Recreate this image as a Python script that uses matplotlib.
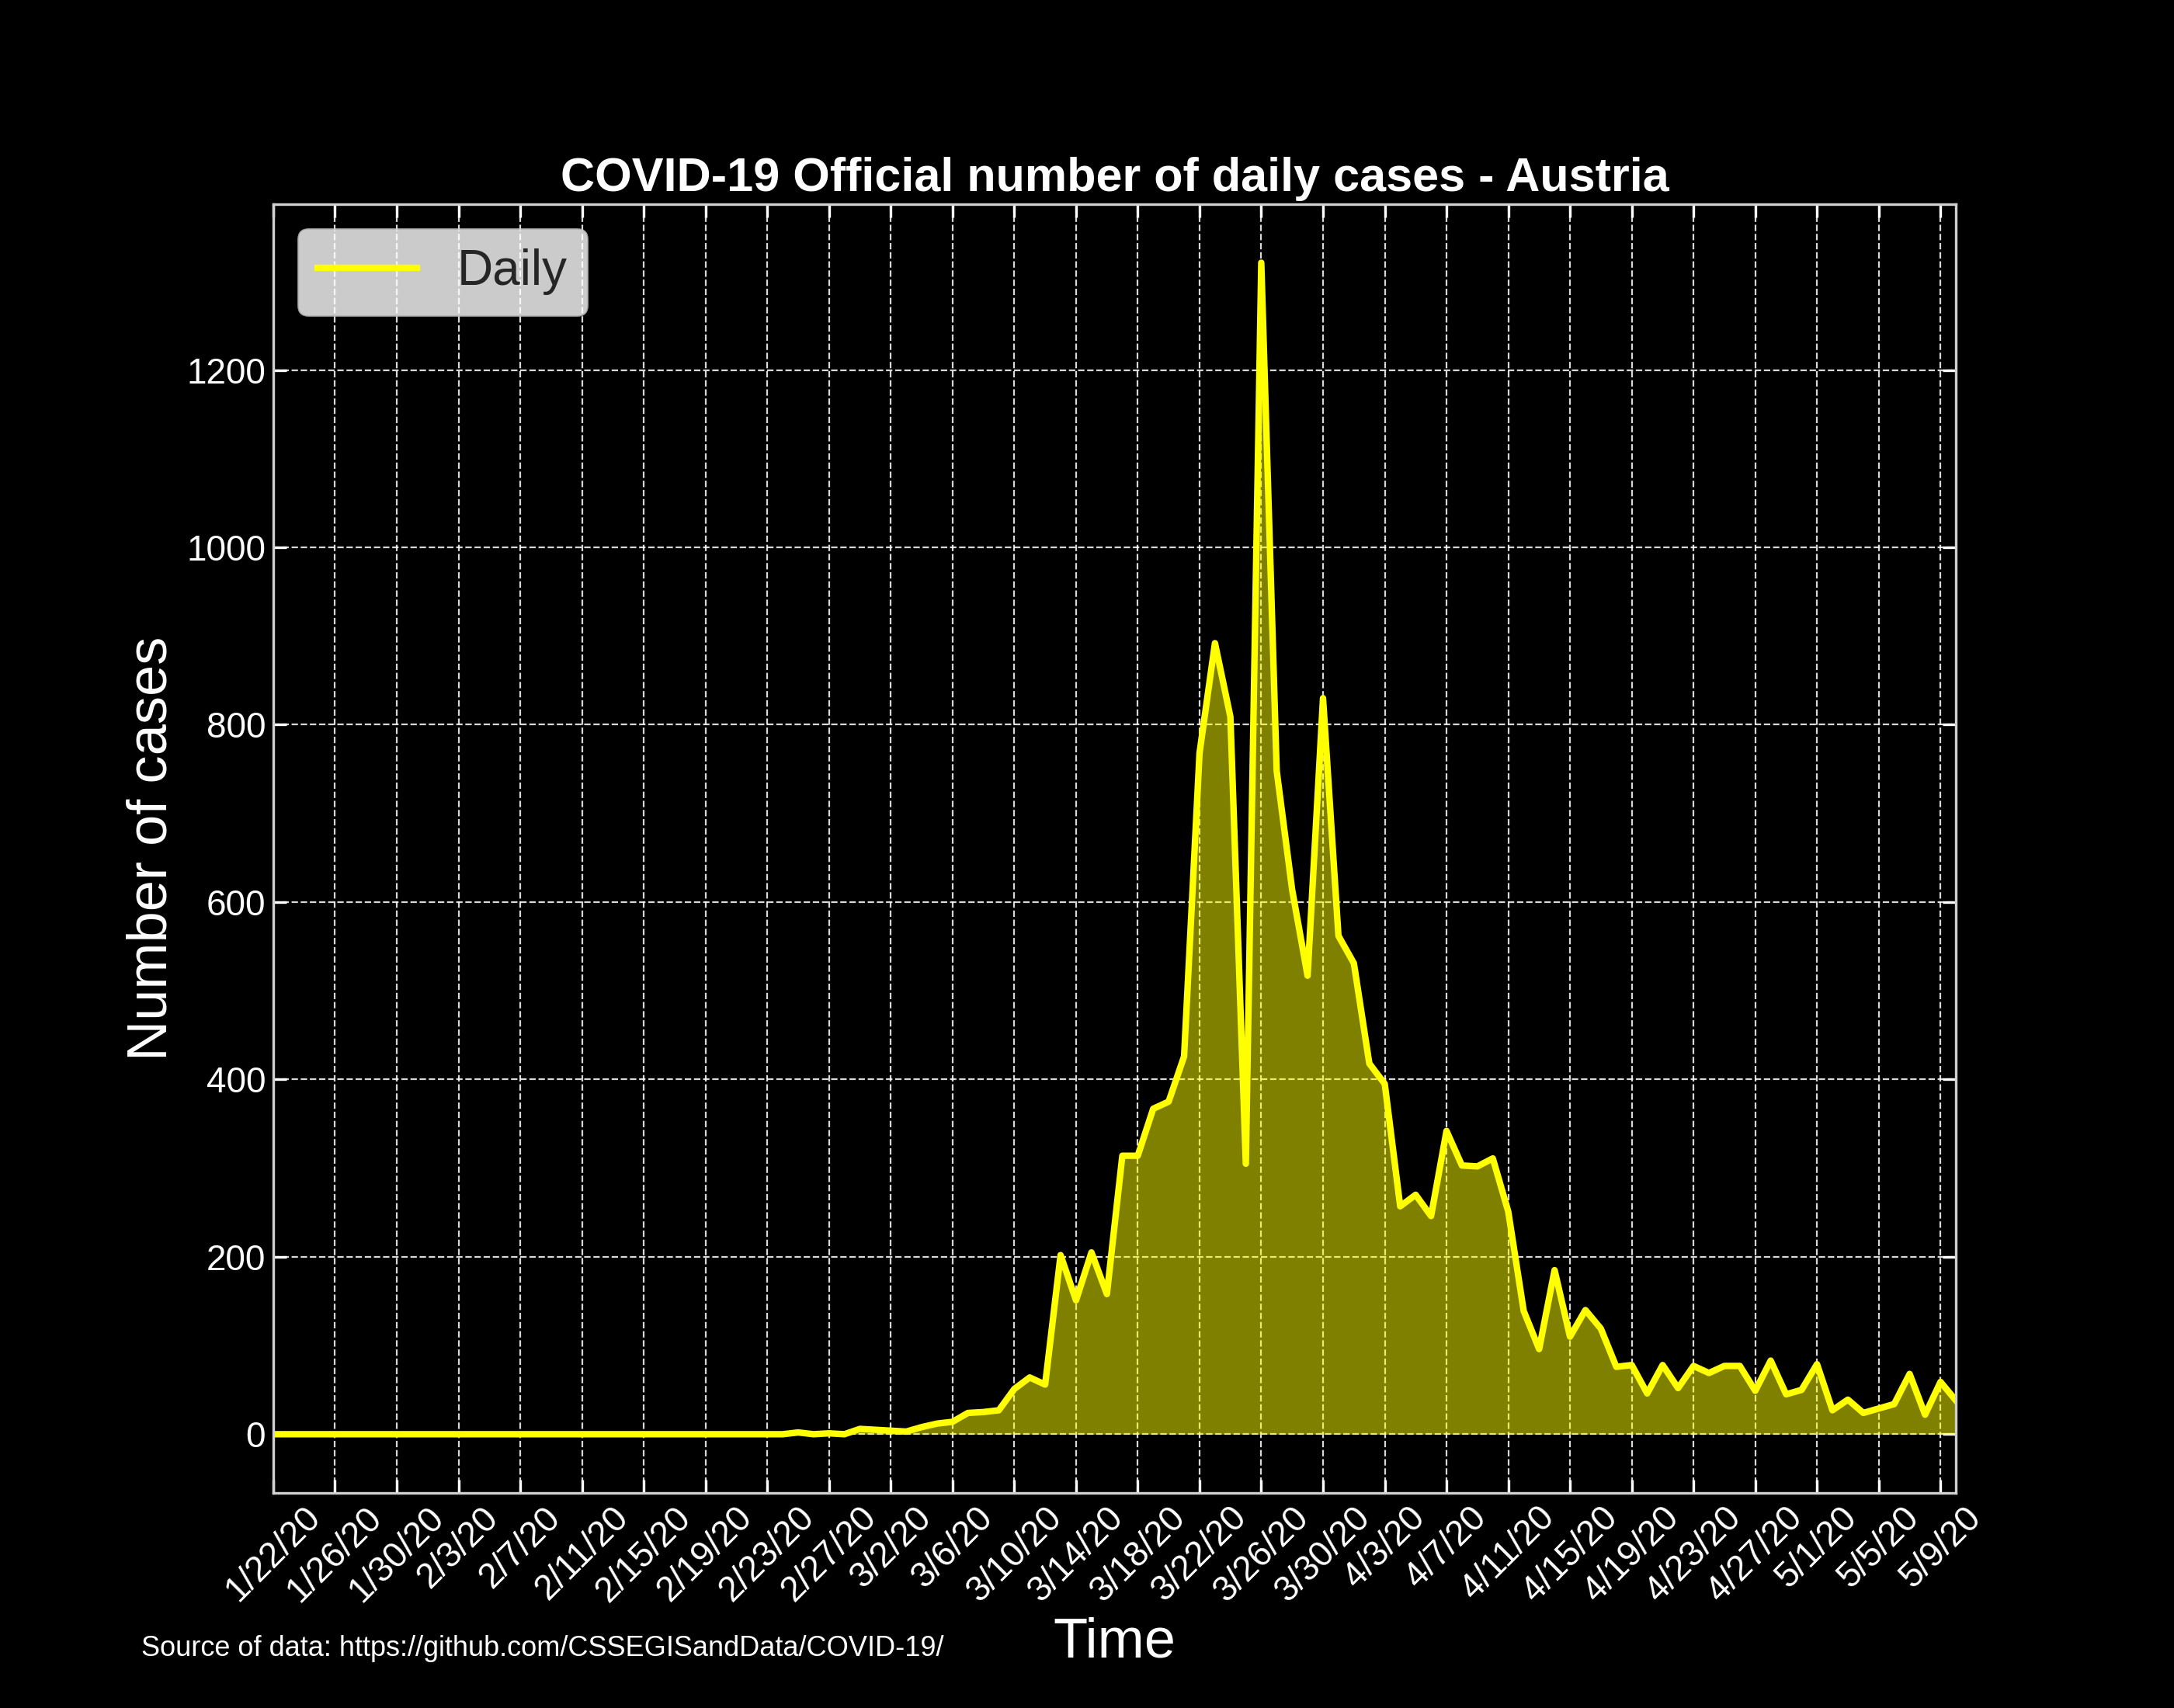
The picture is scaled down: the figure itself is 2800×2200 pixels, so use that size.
"""
COVID-19 daily cases chart - Austria
Daily new cases from the JHU CSSE time series, 1/22/20 to 5/10/20
"""
import numpy as np
import pandas as pd
import matplotlib
matplotlib.use('Agg')
import matplotlib.pyplot as plt

plt.rcParams['font.family'] = ['Liberation Sans', 'DejaVu Sans']

# data
country = 'Austria'
dates = pd.date_range('2020-01-22', '2020-05-10', freq='D')
date_labels = [f"{d.month}/{d.day}/{d.strftime('%y')}" for d in dates]

daily_cases = [
    0, 0, 0, 0, 0, 0, 0, 0, 0, 0,                  # 1/22 - 1/31
    0, 0, 0, 0, 0, 0, 0, 0, 0, 0,                  # 2/1 - 2/10
    0, 0, 0, 0, 0, 0, 0, 0, 0, 0,                  # 2/11 - 2/20
    0, 0, 0, 0, 2, 0, 1, 0, 6,                     # 2/21 - 2/29
    5, 4, 3, 8, 12, 14, 24, 25, 27, 51,            # 3/1 - 3/10
    64, 56, 202, 151, 205, 158, 314, 314, 367, 375,  # 3/11 - 3/20
    426, 768, 892, 809, 305, 1321, 748, 614, 517, 830, 562,  # 3/21 - 3/31
    531, 418, 395, 257, 270, 246, 342, 303, 302, 311,  # 4/1 - 4/10
    251, 139, 96, 185, 110, 140, 119, 76, 78, 46,  # 4/11 - 4/20
    78, 52, 77, 69, 77, 77, 49, 83, 45, 50,        # 4/21 - 4/30
    79, 27, 39, 24, 29, 34, 68, 22, 59, 38,        # 5/1 - 5/10
]

source_text = 'Source of data: https://github.com/CSSEGISandData/COVID-19/'


def plot_daily(labels, values):
    """draw the daily cases curve"""
    fig = plt.figure(figsize=(14, 11), dpi=200, facecolor='black')
    ax = fig.add_axes([0.1257, 0.126, 0.774, 0.7545], facecolor='black')

    x = np.arange(len(values))
    ax.plot(x, values, color='yellow', linewidth=3, label='Daily')
    ax.fill_between(x, 0, values, color='yellow', alpha=0.5, linewidth=0)
    ax.set_xlim(x[0], x[-1])

    # ticks every 4 days
    ax.set_xticks(x[::4])
    ax.set_xticklabels(labels[::4], rotation=45)
    ax.set_yticks(np.arange(0, 1201, 200))

    ax.tick_params(axis='both', which='both', direction='in', top=True, right=True,
                   colors='white', labelcolor='white', labelsize=16.5,
                   length=6, width=1.2)
    for spine in ax.spines.values():
        spine.set_color('#d0d0d0')
        spine.set_linewidth(1.2)

    ax.set_axisbelow(True)
    ax.grid(True, color='white', linestyle='--', linewidth=0.8, alpha=0.85)

    ax.set_title(f'COVID-19 Official number of daily cases - {country}',
                 color='white', fontsize=22, fontweight='bold')
    ax.set_xlabel('Time', color='white', fontsize=26)
    ax.set_ylabel('Number of cases', color='white', fontsize=26)

    leg = ax.legend(loc='upper left', fontsize=23)
    for t in leg.get_texts():
        t.set_color('#262626')

    fig.text(0.065, 0.0305, source_text, color='white', fontsize=13)
    return fig


def main():
    fig = plot_daily(date_labels, daily_cases)
    fig.savefig('out.png', dpi=200, facecolor='black')


if __name__ == '__main__':
    main()
